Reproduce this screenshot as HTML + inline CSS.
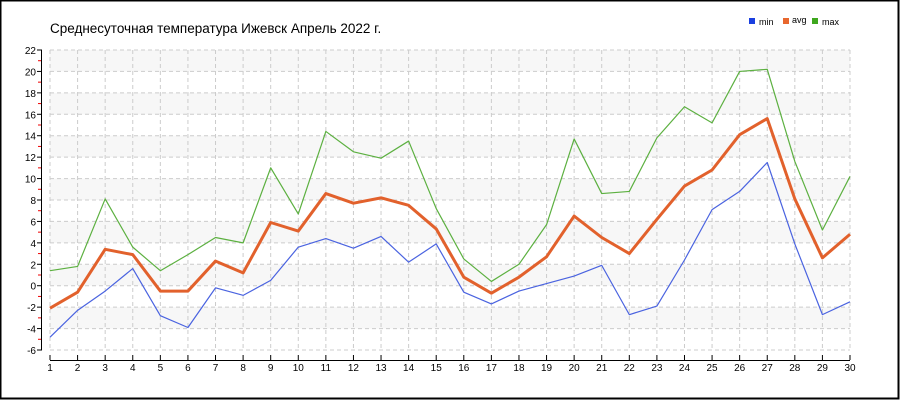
<!DOCTYPE html>
<html><head><meta charset="utf-8"><style>html,body{margin:0;padding:0;background:#fff}svg{display:block}</style></head>
<body>
<svg id="s" width="900" height="400" xmlns="http://www.w3.org/2000/svg" font-family="Liberation Sans, sans-serif">
<rect x="0.5" y="0.5" width="898" height="398" fill="#fff" stroke="#000" stroke-width="2"/>
<text x="50" y="33" font-size="13.5" fill="#000">Среднесуточная температура Ижевск  Апрель 2022 г.</text>
<rect x="749" y="18" width="6" height="6" fill="#1a3fe0"/><text x="759" y="25" font-size="9">min</text>
<rect x="783" y="18" width="6" height="6" fill="#e8672e"/><text x="792" y="23" font-size="9">avg</text>
<rect x="812" y="18" width="6" height="6" fill="#3ea71e"/><text x="822" y="25" font-size="9">max</text>
<g id="g"></g>
</svg>
<script>
var g=document.getElementById('g'),h='';
function Y(v){return 50+(22-v)*300/28}
function X(d){return 50+(d-1)*800/29}
for(var v=-4;v<22;v+=4){h+='<rect x="50" y="'+Y(v+2)+'" width="800" height="'+(Y(v)-Y(v+2))+'" fill="#f7f7f7"/>';}
for(var v=-6;v<=22;v+=2){h+='<line x1="50" x2="850" y1="'+Y(v)+'" y2="'+Y(v)+'" stroke="#ccc" stroke-dasharray="4,3"/>';
h+='<line x1="37" x2="42" y1="'+Y(v)+'" y2="'+Y(v)+'" stroke="#000"/>';
h+='<text x="36" y="'+(Y(v)+4)+'" font-size="10" text-anchor="end">'+v+'</text>';
if(v<22)h+='<line x1="38" x2="41" y1="'+Y(v+1)+'" y2="'+Y(v+1)+'" stroke="#e00"/>';}
for(var d=1;d<=30;d++){h+='<line x1="'+X(d)+'" x2="'+X(d)+'" y1="50" y2="350" stroke="#ccc" stroke-dasharray="4,3"/>';
h+='<line x1="'+X(d)+'" x2="'+X(d)+'" y1="355" y2="360" stroke="#000"/>';
h+='<text x="'+X(d)+'" y="371" font-size="10" text-anchor="middle">'+d+'</text>';}
h+='<line x1="41.5" x2="41.5" y1="50" y2="350" stroke="#000"/>';
h+='<line x1="50" x2="850" y1="360.5" y2="360.5" stroke="#000"/>';
var mn=[-4.8,-2.3,-0.5,1.6,-2.8,-3.9,-0.2,-0.9,0.5,3.6,4.4,3.5,4.6,2.2,3.9,-0.6,-1.7,-0.5,0.2,0.9,1.9,-2.7,-1.9,2.4,7.1,8.8,11.5,3.9,-2.7,-1.5];
var mx=[1.4,1.8,8.1,3.6,1.4,2.9,4.5,4.0,11.0,6.7,14.4,12.5,11.9,13.5,7.2,2.5,0.4,2.0,5.7,13.7,8.6,8.8,13.8,16.7,15.2,20.0,20.2,11.6,5.2,10.2];
var av=[-2.1,-0.6,3.4,2.9,-0.5,-0.5,2.3,1.2,5.9,5.1,8.6,7.7,8.2,7.5,5.3,0.8,-0.7,0.8,2.7,6.5,4.5,3.0,6.2,9.3,10.8,14.1,15.6,8.1,2.6,4.8];
function P(a,c,w){return '<polyline fill="none" stroke="'+c+'" stroke-width="'+w+'" stroke-linejoin="round" points="'+a.map(function(v,i){return X(i+1)+','+Y(v)}).join(' ')+'"/>';}
h+=P(mn,'#4a63e0',1.2)+P(mx,'#5cb040',1.2)+P(av,'#e2612c',3);
g.innerHTML=h;
</script>
</body></html>
